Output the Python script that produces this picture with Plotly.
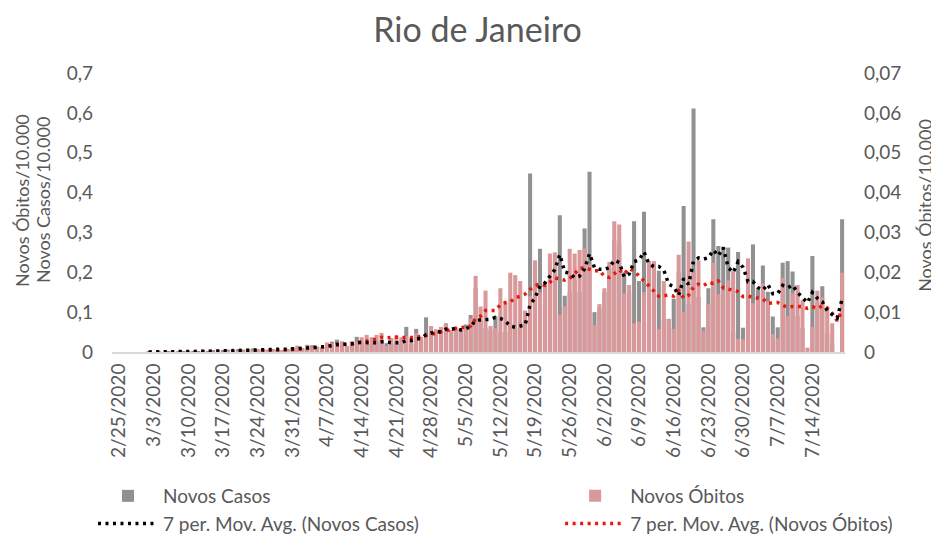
import pandas as pd
import plotly.graph_objects as go

TEXT_GREY = "#595959"
AXIS_GREY = "#D9D9D9"
CASOS_GREY = "#919191"
OBITOS_PINK = "#DA989B"
MA_BLACK = "#000000"
MA_RED = "#E41A0C"
FONT = "Lato, 'Open Sans', sans-serif"

START_DATE = "2020-02-25"

# novos casos por 10.000 hab. (eixo esquerdo), um valor por dia
novos_casos = [
    0, 0, 0, 0, 0, 0, 0.001,
    0, 0.001, 0, 0.001, 0, 0.001, 0.001,
    0.001, 0.002, 0.002, 0.003, 0.002, 0.004, 0.003,
    0.004, 0.006, 0.005, 0.007, 0.006, 0.008, 0.009,
    0.007, 0.008, 0.006, 0.0075, 0.007, 0.005, 0.0075,
    0.012, 0.009, 0.01, 0.018, 0.017, 0.013, 0.011,
    0.02, 0.026, 0.031, 0.018, 0.014, 0.02, 0.038,
    0.02, 0.025, 0.02, 0.025, 0.03, 0.022, 0.02,
    0.025, 0.02, 0.063, 0.02, 0.058, 0.033, 0.087,
    0.05, 0.048, 0.055, 0.072, 0.05, 0.055, 0.057,
    0.069, 0.093, 0.16, 0.08, 0.06, 0.055, 0.09,
    0.05, 0.05, 0.07, 0.06, 0.075, 0.08, 0.448,
    0.17, 0.259, 0.12, 0.18, 0.19, 0.343, 0.141,
    0.15, 0.18, 0.15, 0.31, 0.452, 0.1, 0.11,
    0.15, 0.21, 0.28, 0.27, 0.2, 0.15, 0.328,
    0.178, 0.352, 0.07, 0.22, 0.204, 0.083, 0.083,
    0.134, 0.2, 0.366, 0.12, 0.611, 0.138, 0.062,
    0.16, 0.333, 0.266, 0.264, 0.262, 0.05, 0.251,
    0.061, 0.08, 0.27, 0.157, 0.217, 0.151, 0.089,
    0.062, 0.224, 0.228, 0.202, 0.09, 0.06, 0.0,
    0.241, 0.124, 0.165, 0.048, 0.02, 0, 0.333,
]

# novos óbitos por 10.000 hab. (eixo direito)
novos_obitos = [
    0, 0, 0, 0, 0, 0, 0,
    0, 0, 0, 0, 0, 0, 0,
    0, 0, 0, 0, 0, 0, 0.0001,
    0, 0.0001, 0, 0.0002, 0.0001, 0.0002, 0.0003,
    0.0003, 0.0004, 0.0003, 0.0005, 0.0004, 0.0005, 0.0006,
    0.0008, 0.0016, 0.0009, 0.0016, 0.0012, 0.0011, 0.0012,
    0.0024, 0.0022, 0.0018, 0.0027, 0.0015, 0.0027, 0.0025,
    0.0037, 0.0043, 0.0037, 0.0043, 0.0048, 0.0015, 0.0035,
    0.0041, 0.0037, 0.004, 0.0037, 0.0047, 0.0038, 0.0045,
    0.0065, 0.0057, 0.0063, 0.007, 0.0055, 0.0062, 0.006,
    0.0063, 0.0084, 0.0191, 0.0114, 0.0154, 0.0065, 0.006,
    0.016, 0.0124, 0.0199, 0.0193, 0.0178, 0.0104, 0.014,
    0.023, 0.015, 0.0176, 0.0247, 0.025, 0.0093, 0.0115,
    0.0259, 0.0247, 0.0256, 0.026, 0.022, 0.0068, 0.012,
    0.016, 0.0226, 0.0328, 0.032, 0.0147, 0.0168, 0.0072,
    0.0076, 0.015, 0.0228, 0.0228, 0.0057, 0.0178, 0.0083,
    0.0058, 0.0244, 0.01, 0.0277, 0.02, 0.023, 0.0053,
    0.012, 0.0224, 0.0145, 0.0155, 0.018, 0.0203, 0.0033,
    0.0032, 0.0235, 0.0122, 0.0135, 0.0172, 0.0126, 0.0045,
    0.0034, 0.0186, 0.009, 0.0147, 0.0168, 0.013, 0.0011,
    0.0063, 0.0154, 0.0137, 0.011, 0.0072, 0, 0.0199,
]

tick_labels = [
    "2/25/2020", "3/3/2020", "3/10/2020", "3/17/2020", "3/24/2020",
    "3/31/2020", "4/7/2020", "4/14/2020", "4/21/2020", "4/28/2020",
    "5/5/2020", "5/12/2020", "5/19/2020", "5/26/2020", "6/2/2020",
    "6/9/2020", "6/16/2020", "6/23/2020", "6/30/2020", "7/7/2020",
    "7/14/2020",
]

titulo_esq = ["Novos Óbitos/10.000", "Novos Casos/10.000"]
titulo_dir = "Novos Óbitos/10.000"

dias = pd.date_range(START_DATE, periods=len(novos_casos), freq="D")
tick_dates = [d.strftime("%Y-%m-%d") for d in pd.to_datetime(tick_labels, format="%m/%d/%Y")]

# média móvel de 7 períodos, como a linha de tendência do Excel
mm_casos = pd.Series(novos_casos).rolling(7).mean()
mm_obitos = pd.Series(novos_obitos).rolling(7).mean()

fig = go.Figure()
fig.add_bar(
    x=dias, y=novos_casos, name="Novos Casos",
    marker=dict(color=CASOS_GREY, line_width=0),
    yaxis="y", legend="legend",
)
fig.add_bar(
    x=dias, y=novos_obitos, name="Novos Óbitos",
    marker=dict(color=OBITOS_PINK, line_width=0),
    yaxis="y2", legend="legend2",
)
fig.add_scatter(
    x=dias, y=mm_obitos, mode="lines",
    name="7 per. Mov. Avg. (Novos Óbitos)",
    line=dict(color=MA_RED, width=3.5, dash="3px,4.5px"),
    yaxis="y2", legend="legend2",
)
fig.add_scatter(
    x=dias, y=mm_casos, mode="lines",
    name="7 per. Mov. Avg. (Novos Casos)",
    line=dict(color=MA_BLACK, width=3.5, dash="3px,4.5px"),
    yaxis="y3", legend="legend",
)

tick_font = dict(family=FONT, size=19, color=TEXT_GREY)
title_font = dict(family=FONT, size=18, color=TEXT_GREY)
legend_style = dict(
    orientation="v", xref="container", yref="container",
    yanchor="top", xanchor="left", font=tick_font,
    bgcolor="rgba(0,0,0,0)", itemwidth=60, tracegroupgap=0,
)

x_start = (dias[0] - pd.Timedelta(hours=34)).strftime("%Y-%m-%d %H:%M")
x_end = (dias[-1] + pd.Timedelta(hours=14)).strftime("%Y-%m-%d %H:%M")

# the page body has an 8px margin, the layout below accounts for it
fig.update_layout(
    width=939,
    height=537,
    margin=dict(l=104, r=102, t=65, b=193, autoexpand=False),
    paper_bgcolor="white",
    plot_bgcolor="white",
    separators=",.",
    font=dict(family=FONT, color=TEXT_GREY),
    title=dict(
        text="Rio de Janeiro", x=0.5, xanchor="center",
        y=0.958, yanchor="middle", yref="container",
        font=dict(family=FONT, size=34, color=TEXT_GREY),
    ),
    barmode="overlay",
    bargap=0.18,
    showlegend=True,
    legend=dict(x=0.0905, y=0.1266, **legend_style),
    legend2=dict(x=0.588, y=0.1266, **legend_style),
    xaxis=dict(
        type="date",
        range=[x_start, x_end],
        tickmode="array", tickvals=tick_dates, ticktext=tick_labels,
        tickangle=-90, tickfont=tick_font, ticks="",
        ticklabelstandoff=2,
        showgrid=False, zeroline=False,
        showline=True, linecolor=AXIS_GREY, linewidth=2,
    ),
    yaxis=dict(
        range=[0, 0.7], dtick=0.1, tick0=0,
        tickfont=tick_font, ticks="", showgrid=False, zeroline=False,
        ticklabelstandoff=18,
    ),
    yaxis2=dict(
        overlaying="y", side="right",
        range=[0, 0.07], dtick=0.01, tick0=0,
        tickfont=tick_font, ticks="", showgrid=False, zeroline=False,
        ticklabelstandoff=18,
    ),
    yaxis3=dict(overlaying="y", range=[0, 0.7], visible=False),
)

# axis titles: two stacked lines on the left, one on the right
for texto, xpos in zip(titulo_esq, [-0.1228, -0.0941]):
    fig.add_annotation(
        text=texto, xref="paper", yref="paper", x=xpos, y=0.545,
        textangle=-90, showarrow=False, font=title_font,
        xanchor="center", yanchor="middle",
    )
fig.add_annotation(
    text=titulo_dir, xref="paper", yref="paper", x=1.109, y=0.527,
    textangle=-90, showarrow=False, font=title_font,
    xanchor="center", yanchor="middle",
)

fig.write_html("out.html")
